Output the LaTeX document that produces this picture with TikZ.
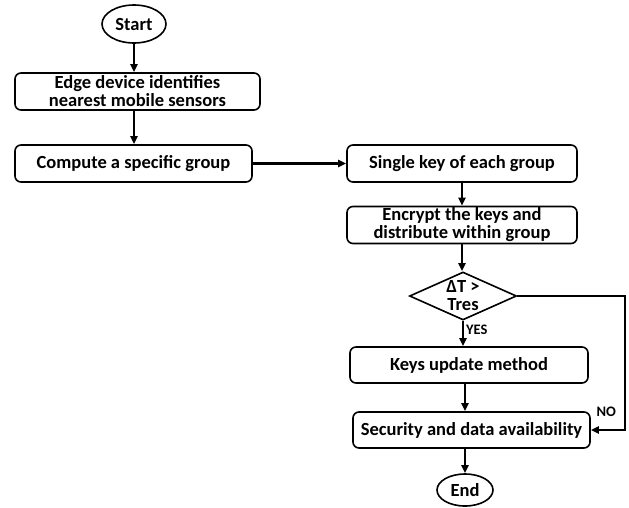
\documentclass[tikz,border=0pt]{standalone}
\usepackage{fontspec}
\setmainfont{Carlito}
\usetikzlibrary{arrows.meta,shapes.geometric}

\begin{document}
\begin{tikzpicture}[x=1pt, y=-1pt, >={Triangle[length=8pt,width=7pt]},
    font=\fontsize{18.5}{18}\selectfont\bfseries,
    process/.style={draw, line width=1.6pt, rounded corners=6pt, align=center, inner sep=0pt, minimum height=37pt},
    terminal/.style={draw, ellipse, line width=1.6pt, inner sep=0pt},
    decision/.style={draw, diamond, line width=1.6pt, inner sep=0pt, minimum width=107pt, minimum height=48pt},
    flow/.style={->, line width=2.2pt},
    small/.style={font=\fontsize{14.5}{14}\selectfont\bfseries}]

    % 画布大小
    \useasboundingbox (0,0) rectangle (629,507);

    % 1. 左列
    \node[terminal, minimum width=64pt, minimum height=38pt] (start) at (134,24) {Start};
    \node[process, minimum width=245pt] (edge) at (137.5,91.5) {Edge device identifies\\nearest mobile sensors};
    \node[process, minimum width=237pt] (comp) at (133.5,163.5) {Compute a specific group};

    % 2. 右列
    \node[process, minimum width=230pt] (single) at (462,163.5) {Single key of each group};
    \node[process, minimum width=230pt] (encrypt) at (462,225) {Encrypt the keys and\\distribute within group};
    \node[decision, label={[align=center, inner sep=0pt]center:{ΔT >\\Tres}}] (dec) at (463,296) {};
    \node[process, minimum width=238pt, minimum height=36pt] (keys) at (469,365) {Keys update method};
    \node[process, minimum width=237pt, minimum height=36pt] (sec) at (471.5,430) {Security and data availability};
    \node[terminal, minimum width=56pt, minimum height=32pt] (end) at (465,490) {End};

    % 3. 连线
    \draw[flow] (start) -- (start |- edge.north);
    \draw[flow] (edge.south -| start) -- (start |- comp.north);
    \draw[flow] (comp) -- (single);
    \draw[flow] (single) -- (single |- encrypt.north);
    \draw[flow] (encrypt.south -| single) -- (single |- dec.north);
    \draw[flow] (dec.south) -- (dec.south |- keys.north)
        node[small, pos=0.35, right, inner sep=2pt] {YES};
    \draw[flow] (keys.south -| end) -- (end |- sec.north);
    \draw[flow] (sec.south -| end) -- (end.north);

    % 4. NO 分支
    \coordinate (nocorner) at (625,296);
    \draw[flow] (dec.east) -- (nocorner) |- (sec.east);
    \node[small, anchor=south west] (nolabel) at (593,420) {NO};

\end{tikzpicture}
\end{document}
